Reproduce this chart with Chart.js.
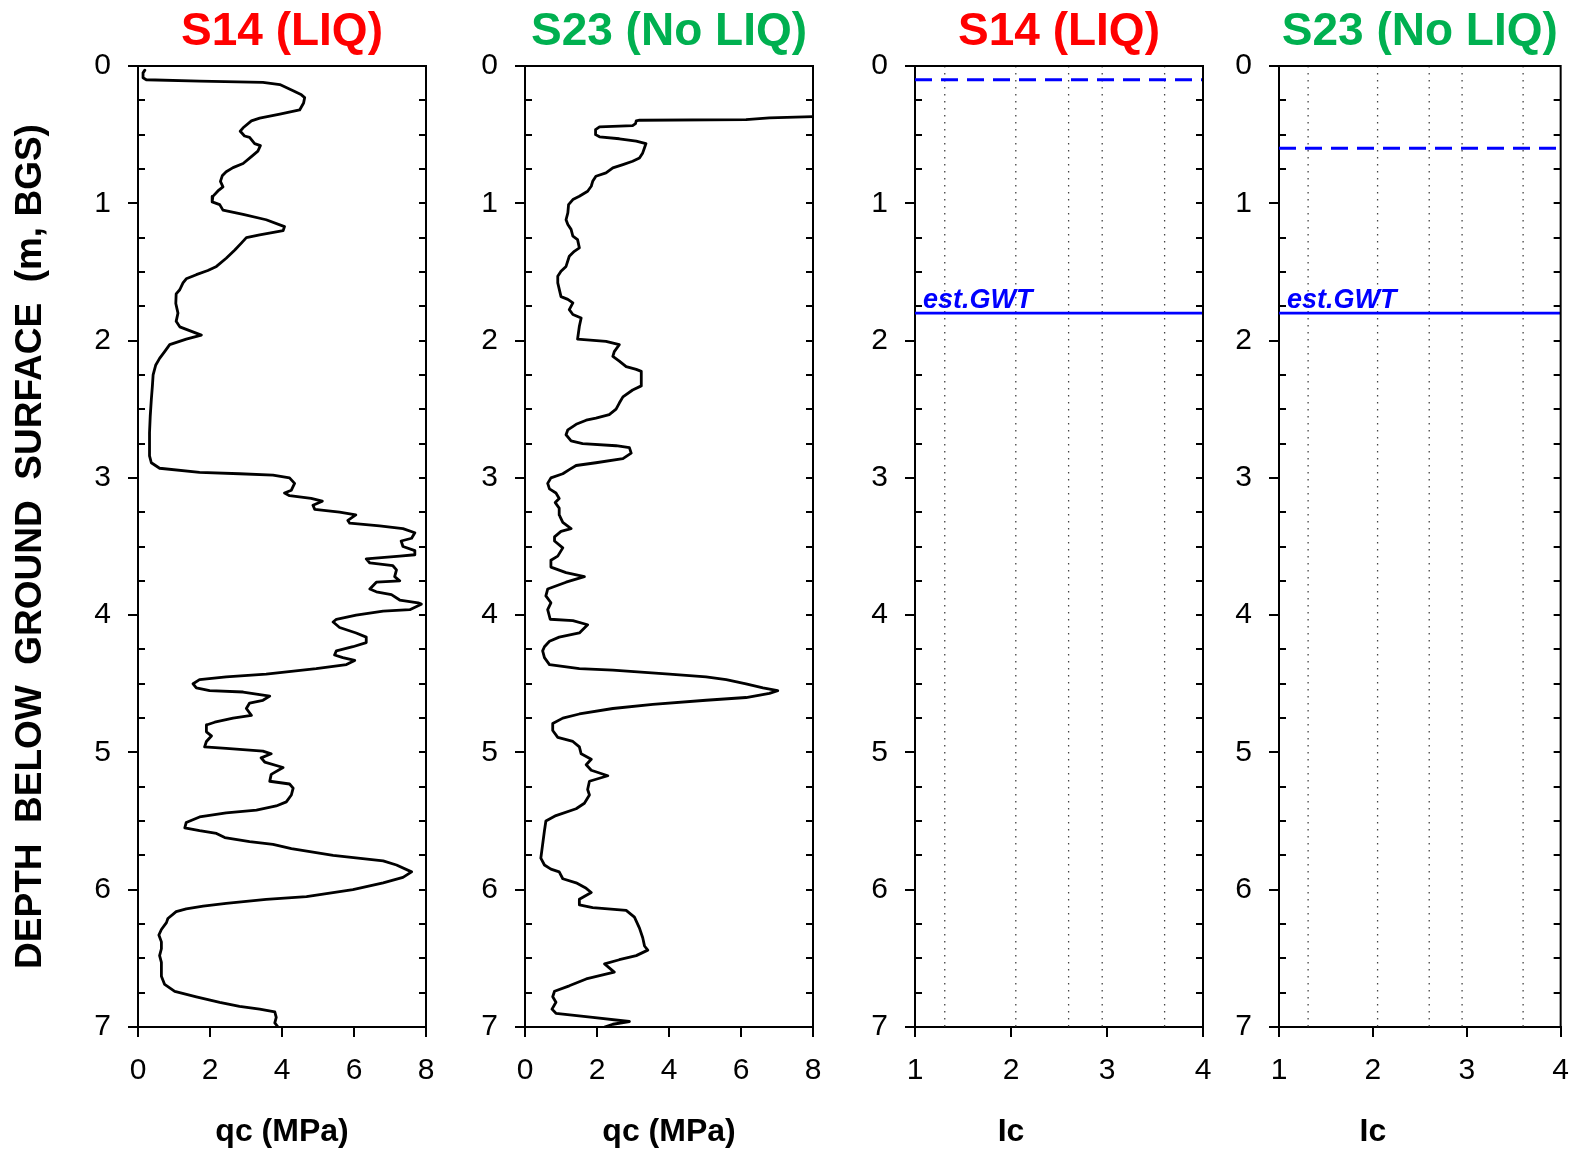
<!DOCTYPE html>
<html>
<head>
<meta charset="utf-8">
<script src="https://cdn.jsdelivr.net/npm/chart.js@4.4.1/dist/chart.umd.min.js"></script>
<style>
  body { margin: 0; background: #fff; }
  #wrap { position: relative; width: 1585px; height: 1151px; }
  canvas { position: absolute; left: 0; top: 0; }
</style>
</head>
<body>
<div id="wrap">
  <canvas id="p0" width="1585" height="1151"></canvas>
  <canvas id="p1" width="1585" height="1151"></canvas>
  <canvas id="p2" width="1585" height="1151"></canvas>
  <canvas id="p3" width="1585" height="1151"></canvas>
</div>
<script>
// S14 cone tip resistance
const s14Depth = [
  0.03, 0.05, 0.086, 0.10, 0.11, 0.12, 0.135, 0.18, 0.21, 0.23,
  0.27, 0.32, 0.35, 0.38, 0.40, 0.45, 0.475, 0.51, 0.52, 0.565,
  0.58, 0.62, 0.66, 0.71, 0.74, 0.77, 0.80, 0.84, 0.88, 0.91,
  0.95, 0.99, 1.01, 1.05, 1.08, 1.12, 1.17, 1.20, 1.23, 1.25,
  1.29, 1.34, 1.40, 1.46, 1.49, 1.52, 1.55, 1.58, 1.63, 1.66,
  1.73, 1.80, 1.86, 1.90, 1.96, 1.99, 2.03, 2.08, 2.13, 2.18,
  2.25, 2.33, 2.43, 2.55, 2.67, 2.84, 2.89, 2.93, 2.96, 2.97,
  2.98, 3.00, 3.04, 3.09, 3.11, 3.13, 3.15, 3.17, 3.20, 3.23,
  3.25, 3.27, 3.31, 3.33, 3.35, 3.37, 3.40, 3.44, 3.46, 3.50,
  3.53, 3.56, 3.57, 3.59, 3.62, 3.64, 3.67, 3.72, 3.75, 3.76,
  3.81, 3.83, 3.85, 3.89, 3.91, 3.92, 3.96, 3.97, 4.00, 4.03,
  4.05, 4.09, 4.13, 4.16, 4.20, 4.23, 4.26, 4.29, 4.31, 4.33,
  4.36, 4.39, 4.43, 4.45, 4.47, 4.50, 4.53, 4.55, 4.56, 4.59,
  4.62, 4.64, 4.68, 4.73, 4.75, 4.78, 4.80, 4.85, 4.88, 4.92,
  4.96, 4.97, 4.99, 5.01, 5.04, 5.07, 5.11, 5.16, 5.21, 5.23,
  5.26, 5.31, 5.36, 5.39, 5.42, 5.44, 5.47, 5.51, 5.55, 5.57,
  5.59, 5.62, 5.65, 5.67, 5.70, 5.75, 5.79, 5.82, 5.87, 5.91,
  5.95, 6.00, 6.05, 6.07, 6.10, 6.12, 6.14, 6.16, 6.21, 6.24,
  6.29, 6.33, 6.38, 6.43, 6.48, 6.53, 6.63, 6.69, 6.74, 6.78,
  6.82, 6.85, 6.87, 6.89, 6.93, 6.97, 7.00
];
const s14Qc = [
  0.19, 0.14, 0.14, 0.23, 1.71, 3.47, 3.94, 4.31, 4.54, 4.63,
  4.60, 4.49, 3.94, 3.38, 3.15, 2.92, 2.84, 2.96, 3.10, 3.24,
  3.40, 3.33, 3.15, 2.92, 2.64, 2.45, 2.34, 2.29, 2.36, 2.22,
  2.08, 2.06, 2.27, 2.36, 2.92, 3.56, 4.07, 4.03, 3.38, 3.01,
  2.87, 2.69, 2.45, 2.18, 1.94, 1.62, 1.34, 1.25, 1.16, 1.06,
  1.05, 1.11, 1.06, 1.16, 1.76, 1.34, 0.88, 0.74, 0.60, 0.49,
  0.42, 0.40, 0.37, 0.34, 0.32, 0.32, 0.37, 0.60, 1.71, 2.82,
  3.75, 4.21, 4.35, 4.26, 4.07, 4.21, 4.81, 5.12, 4.86, 4.91,
  5.60, 6.05, 5.83, 5.88, 6.71, 7.36, 7.69, 7.60, 7.31, 7.36,
  7.69, 7.69, 7.27, 6.34, 6.44, 7.08, 7.18, 7.13, 7.27, 6.62,
  6.44, 6.62, 7.04, 7.27, 7.78, 7.87, 7.55, 6.81, 6.06, 5.51,
  5.42, 5.60, 6.06, 6.34, 6.34, 5.97, 5.51, 5.46, 5.69, 6.02,
  5.79, 4.95, 3.56, 2.45, 1.71, 1.53, 1.62, 1.99, 2.92, 3.66,
  3.47, 3.10, 3.01, 3.15, 2.64, 2.13, 1.90, 1.90, 2.04, 1.90,
  1.85, 2.45, 3.47, 3.70, 3.42, 3.52, 4.03, 3.70, 3.66, 4.21,
  4.31, 4.26, 4.12, 3.84, 3.29, 2.45, 1.71, 1.34, 1.30, 1.71,
  2.18, 2.41, 3.10, 3.75, 4.26, 5.42, 6.81, 7.18, 7.60, 7.36,
  6.81, 5.97, 4.68, 3.56, 2.45, 1.81, 1.34, 1.06, 0.83, 0.79,
  0.65, 0.58, 0.65, 0.65, 0.60, 0.65, 0.65, 0.74, 1.02, 1.62,
  2.27, 2.82, 3.38, 3.80, 3.84, 3.80, 3.89
];

// S23 cone tip resistance
const s23Depth = [
  0.365, 0.378, 0.39, 0.395, 0.40, 0.42, 0.434, 0.443, 0.463, 0.50,
  0.516, 0.53, 0.548, 0.565, 0.596, 0.633, 0.67, 0.694, 0.718, 0.742,
  0.779, 0.803, 0.84, 0.876, 0.912, 0.949, 0.973, 1.01, 1.07, 1.12,
  1.155, 1.19, 1.24, 1.265, 1.325, 1.35, 1.386, 1.46, 1.495, 1.532,
  1.58, 1.68, 1.70, 1.726, 1.775, 1.81, 1.836, 1.896, 1.99, 2.006,
  2.03, 2.08, 2.115, 2.15, 2.19, 2.21, 2.224, 2.33, 2.36, 2.41,
  2.455, 2.50, 2.54, 2.565, 2.58, 2.61, 2.65, 2.686, 2.73, 2.75,
  2.766, 2.78, 2.82, 2.86, 2.89, 2.91, 2.94, 2.97, 3.00, 3.04,
  3.08, 3.11, 3.15, 3.18, 3.22, 3.27, 3.325, 3.37, 3.39, 3.43,
  3.46, 3.51, 3.57, 3.60, 3.65, 3.69, 3.72, 3.76, 3.81, 3.86,
  3.91, 3.96, 4.03, 4.04, 4.07, 4.13, 4.16, 4.19, 4.23, 4.26,
  4.31, 4.36, 4.39, 4.40, 4.43, 4.45, 4.47, 4.50, 4.53, 4.55,
  4.57, 4.60, 4.62, 4.65, 4.68, 4.72, 4.75, 4.79, 4.84, 4.89,
  4.92, 4.96, 5.01, 5.05, 5.09, 5.13, 5.17, 5.21, 5.27, 5.31,
  5.37, 5.41, 5.46, 5.50, 5.57, 5.67, 5.77, 5.82, 5.85, 5.87,
  5.92, 5.95, 5.99, 6.02, 6.07, 6.11, 6.13, 6.15, 6.20, 6.28,
  6.35, 6.41, 6.44, 6.48, 6.51, 6.54, 6.60, 6.62, 6.65, 6.70,
  6.74, 6.78, 6.82, 6.87, 6.90, 6.93, 6.96, 6.98, 7.00
];
const s23Qc = [
  8.50, 6.79, 6.14, 3.18, 3.09, 3.07, 2.99, 2.07, 1.96, 1.96,
  2.07, 2.62, 3.09, 3.36, 3.32, 3.27, 3.18, 2.99, 2.72, 2.44,
  2.25, 1.97, 1.88, 1.84, 1.74, 1.51, 1.33, 1.21, 1.19, 1.14,
  1.19, 1.28, 1.33, 1.46, 1.51, 1.37, 1.23, 1.14, 1.00, 0.91,
  0.91, 1.00, 1.19, 1.33, 1.23, 1.33, 1.56, 1.51, 1.46, 2.25,
  2.62, 2.48, 2.44, 2.62, 2.81, 3.09, 3.23, 3.23, 2.99, 2.72,
  2.62, 2.53, 2.34, 1.97, 1.70, 1.42, 1.19, 1.14, 1.28, 1.60,
  2.53, 2.90, 2.95, 2.72, 1.97, 1.42, 1.23, 1.05, 0.72, 0.63,
  0.68, 0.86, 0.95, 0.84, 0.95, 0.95, 1.05, 1.28, 1.00, 0.82,
  0.82, 1.05, 0.91, 0.72, 0.72, 1.14, 1.65, 1.14, 0.63, 0.58,
  0.72, 0.63, 0.70, 1.33, 1.74, 1.51, 0.95, 0.68, 0.54, 0.49,
  0.54, 0.68, 1.51, 2.44, 4.01, 5.03, 5.59, 6.14, 6.61, 7.02,
  6.79, 6.14, 5.03, 3.55, 2.44, 1.51, 1.05, 0.77, 0.77, 0.91,
  1.33, 1.51, 1.56, 1.84, 1.70, 1.84, 2.30, 1.79, 1.74, 1.79,
  1.65, 1.42, 0.86, 0.58, 0.54, 0.49, 0.44, 0.54, 0.72, 0.95,
  1.05, 1.42, 1.70, 1.84, 1.51, 1.51, 1.88, 2.81, 3.04, 3.18,
  3.27, 3.32, 3.41, 3.09, 2.62, 2.21, 2.48, 2.16, 1.70, 1.23,
  0.82, 0.77, 0.86, 0.75, 0.86, 1.88, 2.90, 2.44, 2.21
];

// Ic soil behaviour boundaries and water levels
const icBounds = [1.31, 2.05, 2.60, 2.95, 3.60];
const waterAtTest = [0.10, 0.60];   // dashed, S14 / S23
const estGwt = [1.80, 1.80];        // solid "est.GWT"

const qcTicks = [0, 8, 2];
const icTicks = [1, 4, 1];
const depthTicks = [0, 7, 1];

const titles = ['S14 (LIQ)', 'S23 (No LIQ)', 'S14 (LIQ)', 'S23 (No LIQ)'];
const titleColors = ['#ff0000', '#00b050', '#ff0000', '#00b050'];

Chart.defaults.font.family = '"Liberation Sans", Arial, sans-serif';
Chart.defaults.color = '#000';

function pts(xs, ys) {
  return xs.map(function(v, i) { return { x: v, y: ys[i] }; });
}

// frame, inside ticks, panel title, Ic axis title and GWT label
const framePlugin = {
  id: 'frame',
  afterDatasetsDraw(chart, args, o) {
    const ctx = chart.ctx, a = chart.chartArea;
    const x = chart.scales.x, y = chart.scales.y;
    ctx.save();
    ctx.strokeStyle = '#000';
    ctx.lineWidth = 2;
    ctx.lineCap = 'square';
    ctx.beginPath();
    ctx.moveTo(a.left, a.top);
    ctx.lineTo(a.right, a.top);
    ctx.lineTo(a.right, a.bottom);
    for (let v = 0.25; v < 7; v += 0.25) {
      const py = Math.round(y.getPixelForValue(v));
      ctx.moveTo(a.right, py);
      ctx.lineTo(a.right - 6, py);
      if (v % 1 !== 0) {
        ctx.moveTo(a.left, py);
        ctx.lineTo(a.left + 6, py);
      }
    }
    ctx.stroke();

    ctx.font = 'bold 46px "Liberation Sans", Arial, sans-serif';
    ctx.fillStyle = o.color;
    ctx.textAlign = 'center';
    ctx.textBaseline = 'alphabetic';
    ctx.fillText(o.text, (a.left + a.right) / 2, 45);

    if (o.gwt != null) {
      ctx.font = 'bold 32px "Liberation Sans", Arial, sans-serif';
      ctx.fillStyle = '#000';
      ctx.textBaseline = 'middle';
      ctx.fillText('Ic', x.getPixelForValue(2), 1132);

      ctx.font = 'italic bold 27px "Liberation Sans", Arial, sans-serif';
      ctx.fillStyle = '#0000ff';
      ctx.textAlign = 'left';
      ctx.textBaseline = 'alphabetic';
      ctx.fillText('est.GWT', x.getPixelForValue(1) + 8, y.getPixelForValue(o.gwt) - 5);
    }
    ctx.restore();
  }
};

function makePanel(id, n, left, right, datasets, xTicks, xTitle, gwt) {
  const yW = n === 0 ? left : 60;
  new Chart(document.getElementById(id), {
    type: 'scatter',
    data: { datasets: datasets },
    options: {
      responsive: false,
      animation: false,
      layout: { padding: { left: left - yW, right: 1585 - right, top: 66, bottom: 0 } },
      plugins: {
        legend: { display: false },
        tooltip: { enabled: false },
        frame: { text: titles[n], color: titleColors[n], gwt: gwt }
      },
      scales: {
        x: {
          type: 'linear',
          min: xTicks[0], max: xTicks[1],
          afterFit: function(s) { s.height = 124; },
          ticks: { stepSize: xTicks[2], padding: 16, font: { size: 30 }, color: '#000' },
          grid: { drawOnChartArea: false, drawTicks: true, tickLength: 10, color: '#000', lineWidth: 2 },
          border: { display: true, color: '#000', width: 2 },
          title: { display: xTitle !== '', text: xTitle, font: { size: 32, weight: 'bold' }, color: '#000', padding: { top: 0, bottom: 0 } }
        },
        y: {
          type: 'linear',
          reverse: true,
          min: depthTicks[0], max: depthTicks[1],
          afterFit: function(s) { s.width = yW; },
          ticks: { stepSize: depthTicks[2], padding: 17, font: { size: 30 }, color: '#000' },
          grid: { drawOnChartArea: false, drawTicks: true, tickLength: 10, color: '#000', lineWidth: 2 },
          border: { display: true, color: '#000', width: 2 },
          title: {
            display: n === 0,
            text: 'DEPTH  BELOW  GROUND  SURFACE  (m, BGS)',
            font: { size: 37, weight: 'bold' },
            color: '#000',
            padding: { top: 9, bottom: 0 }
          }
        }
      }
    },
    plugins: [framePlugin]
  });
}

function cptLine(xs, ys) {
  return {
    data: pts(xs, ys), showLine: true, pointRadius: 0,
    borderColor: '#000', borderWidth: 2.8, tension: 0,
    borderJoinStyle: 'round', borderCapStyle: 'round'
  };
}

function icSets(k) {
  const sets = [
    { data: [{ x: 1, y: estGwt[k] }, { x: 4, y: estGwt[k] }], showLine: true, pointRadius: 0,
      borderColor: '#0000ff', borderWidth: 2.6 },
    { data: [{ x: 1, y: waterAtTest[k] }, { x: 4, y: waterAtTest[k] }], showLine: true, pointRadius: 0,
      borderColor: '#0000ff', borderWidth: 3, borderDash: [17, 9] }
  ];
  icBounds.forEach(function(b) {
    sets.push({ data: [{ x: b, y: 0 }, { x: b, y: 7 }], showLine: true, pointRadius: 0,
      borderColor: '#444', borderWidth: 1.3, borderDash: [1.5, 5.5] });
  });
  return sets;
}

makePanel('p0', 0, 138, 426, [cptLine(s14Qc, s14Depth)], qcTicks, 'qc (MPa)', null);
makePanel('p1', 1, 525, 813, [cptLine(s23Qc, s23Depth)], qcTicks, 'qc (MPa)', null);
makePanel('p2', 2, 915, 1203, icSets(0), icTicks, '', estGwt[0]);
makePanel('p3', 3, 1279, 1567, icSets(1), icTicks, '', estGwt[1]);
</script>
</body>
</html>
